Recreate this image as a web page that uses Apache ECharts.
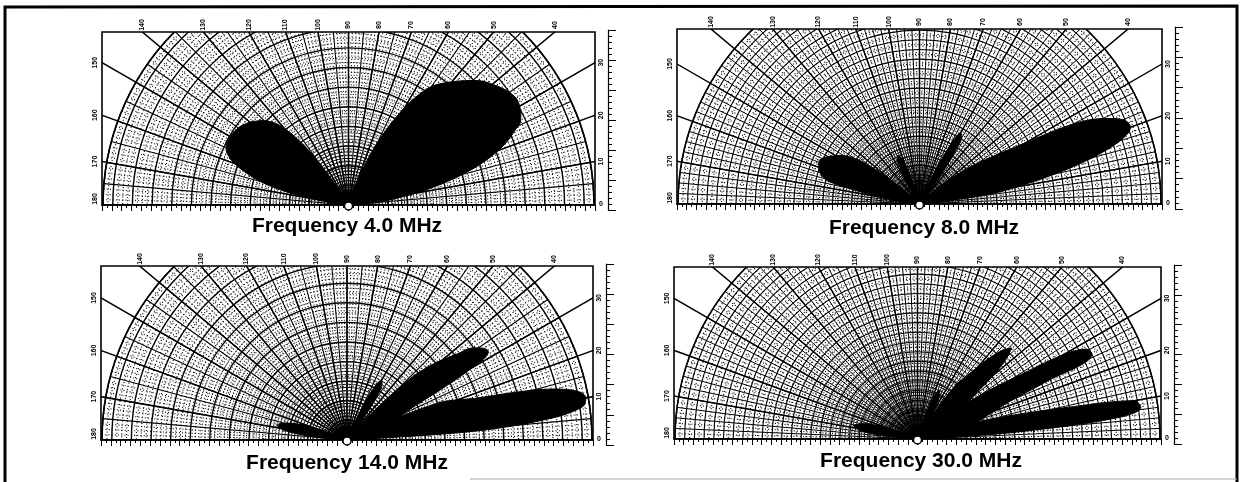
<!DOCTYPE html>
<html><head><meta charset="utf-8">
<script src="https://cdn.jsdelivr.net/npm/echarts@6/dist/echarts.min.js"></script>
<style>
html,body{margin:0;padding:0;background:#fff;}
#wrap{position:relative;width:1251px;height:482px;overflow:hidden;background:#fff;}
.clip{position:absolute;overflow:hidden;}
#overlay{position:absolute;left:0;top:0;width:1251px;height:482px;z-index:5;}
</style></head>
<body><div id="wrap"><div id="overlay"></div></div>
<script>
// ---------- DATA ----------
const angleDeg = [0,2,4,6,8,10,12,14,16,18,20,22,24,26,28,30,32,34,36,38,40,42,44,46,48,50,52,54,56,58,60,62,64,66,68,70,72,74,76,78,80,82,84,86,88,90,92,94,96,98,100,102,104,106,108,110,112,114,116,118,120,122,124,126,128,130,132,134,136,138,140,142,144,146,148,150,152,154,156,158,160,162,164,166,168,170,172,174,176,178,180];

const titles = ['Frequency 4.0 MHz','Frequency 8.0 MHz','Frequency 14.0 MHz','Frequency 30.0 MHz'];

const tickAngles = [0,10,20,30,40,50,60,70,80,90,100,110,120,130,140,150,160,170,180];
const tickLabels = ['0','10','20','30','40','50','60','70','80','90','100','110','120','130','140','150','160','170','180'];

// relative field (outer ring = 100)
const pattern4MHz = [0,3,8,14,20,28,36,44,52,59,65,70,74,78,79.5,80.5,81,80.5,79.5,78,76.5,75,73,70.5,68,65.5,63,60.5,57,52,46,39,32,25,17,10,4,1,
 1,1,1,1,1,1,1,1,1,1,1,1,1,1,1,1,1,1,1,1,1,1,
 1,6,17,27,35,41,45,47.5,49.5,51,52.5,53.5,54.5,55,55.5,56,56,55.5,54.5,52.5,49.5,45,40,34,26,16,8,4,2,1,0];

const pattern8MHz = [0,1,3,10,30,41,54,68,80,89,93,92,87,80,68,51,40,33,27,20,12,7,4,2,2,3,7,17,27,33,34,30,19,8,3,1,
 1,1,1,1,1,1,1,1,1,1,1,1,1,1,1,1,
 2,6,13,18,21,22,21,17,10,5,2,
 1,1,1,1,1,1,
 3,13,24,31,35,38,40,42,44,45,45,44.5,43.5,42,39,27,17,10,6,3,1,0];

const pattern14MHz = [0,4,53,83,97,99,96,86,70,55,48,41,23,28,41,59,68,67,64,57,51,45,37,24,12,7,8,16,23,27,28,26,19,9,4,2,
 2,1,1,1,1,1,1,1,1,1,1,1,1,1,1,1,1,1,1,1,1,1,1,1,1,1,1,1,1,1,1,1,1,1,1,1,1,1,1,1,1,2,
 4,9,16,21,25,28,29,28,24,16,7,2,0];

const pattern30MHz = [0,6,41,82,93,91,62,41,26,29,34,40,58,80,79,70,50,37,26,31,41,49,54,51,46,39,33,29,21,11,13,18,21,22,20,16,10,6,
 5,5,5,5,5,5,5,5,5,5,5,5,5,5,5,5,5,5,5,5,5,5,5,5,5,5,5,5,5,5,5,5,5,5,5,5,5,5,5,5,
 5,8,14,19,23,25,27,26,23,16,7,2,0];

const patterns = [pattern4MHz, pattern8MHz, pattern14MHz, pattern30MHz];

// ---------- LAYOUT ----------
const layout = [
  {l:102, r:595, t:32, b:205, tx:347, ty:228, dense:false},
  {l:677, r:1162, t:29, b:204, tx:924, ty:230, dense:true},
  {l:101, r:593, t:266, b:440, tx:347, ty:465, dense:false},
  {l:674, r:1161, t:267, b:439, tx:921, ty:463, dense:true}
];

const wrap = document.getElementById('wrap');

function panelOption(values, W, H, dense){
  const R = W/2 - 1;
  const c = [W/2, H];
  const dot = {color:'#000', width:dense?1.2:1.1, type:[1,2.2]};
  return {
    animation:false,
    polar:[{center:c, radius:R},{center:c, radius:Math.ceil(Math.hypot(W/2,H))+20}],
    angleAxis:[{
      polarIndex:0, type:'value', min:0, max:360, startAngle:0, clockwise:false,
      interval: dense?2.5:5,
      axisLine:{show:true, lineStyle:{color:'#000', width:1.6}},
      axisTick:{show:false}, axisLabel:{show:false},
      splitLine:{show:true, lineStyle:{color:'#000', width:dense?1:1.1}},
      minorTick:{show:false, splitNumber:dense?2:4},
      minorSplitLine:{show:true, lineStyle:dot}
    },{
      polarIndex:1, type:'value', min:0, max:360, startAngle:0, clockwise:false, interval:10,
      axisLine:{show:false}, axisTick:{show:false}, axisLabel:{show:false},
      splitLine:{show:true, lineStyle:{color:'#000', width:1.5}}
    }],
    radiusAxis:[{
      polarIndex:0, type:'value', min:0, max:100, interval:dense?4:8,
      axisLine:{show:false}, axisTick:{show:false}, axisLabel:{show:false},
      splitLine:{show:true, lineStyle:{color:'#000', width:dense?1.1:1.4}},
      minorTick:{show:false, splitNumber:dense?2:4},
      minorSplitLine:{show:true, lineStyle:dot}
    },{
      polarIndex:1, type:'value', min:0, max:100,
      axisLine:{show:false}, axisTick:{show:false}, axisLabel:{show:false}, splitLine:{show:false}
    }],
    series:[{
      type:'line', coordinateSystem:'polar', polarIndex:0,
      data: angleDeg.map((a,k)=>[values[k], a]),
      symbol:'none', smooth:0.35, silent:true, z:5,
      lineStyle:{color:'#000', width:1},
      areaStyle:{color:'#000', opacity:1}
    }]
  };
}

layout.forEach((L,i)=>{
  const div = document.createElement('div');
  div.className = 'clip';
  const W = L.r - L.l, H = L.b - L.t;
  div.style.left = L.l+'px'; div.style.top = L.t+'px';
  div.style.width = W+'px'; div.style.height = H+'px';
  wrap.insertBefore(div, document.getElementById('overlay'));
  const ch = echarts.init(div);
  ch.setOption(panelOption(patterns[i], W, H, L.dense));
});

// ---------- OVERLAY (frames, labels, titles, rulers) ----------
function labelElements(L){
  const cx = (L.l+L.r)/2, els = [];
  tickAngles.forEach((deg,k)=>{
    const txt = tickLabels[k];
    let x, y, rot = Math.PI/2;
    if (deg === 0) { x = L.r+6; y = L.b-1; rot = 0; }
    else if (deg === 180) { x = L.l-7; y = L.b-6; }
    else {
      const a = deg*Math.PI/180, dx = Math.cos(a), dy = Math.sin(a);
      const tTop = (L.b-L.t)/dy;
      const tSide = dx > 1e-9 ? (L.r-cx)/dx : (dx < -1e-9 ? (cx-L.l)/(-dx) : Infinity);
      if (tTop <= tSide) { x = cx + tTop*dx; y = L.t-7; }
      else { y = L.b - tSide*dy; x = dx > 0 ? L.r+6 : L.l-7; }
    }
    els.push({type:'text', x:x, y:y, rotation:rot, z:20,
      style:{text:txt, font:'bold 7px "Liberation Sans"', fill:'#000',
             align:'center', verticalAlign:'middle', textAlign:'center', textVerticalAlign:'middle'}});
  });
  return els;
}

const graphicEls = [];
graphicEls.push({type:'polyline', z:10, shape:{points:[[5,482],[5,7],[1237,6],[1237,482]]},
  style:{stroke:'#000', lineWidth:3, fill:null}});
graphicEls.push({type:'line', z:10, shape:{x1:470,y1:479,x2:1237,y2:479}, style:{stroke:'#aaa', lineWidth:1}});
layout.forEach(L=>{
  graphicEls.push({type:'rect', z:10, shape:{x:L.l, y:L.t, width:L.r-L.l, height:L.b-L.t},
    style:{fill:null, stroke:'#000', lineWidth:1.6}});
  graphicEls.push({type:'circle', z:12, shape:{cx:(L.l+L.r)/2, cy:L.b+1, r:4},
    style:{fill:'#fff', stroke:'#000', lineWidth:1.5}});
  labelElements(L).forEach(e=>graphicEls.push(e));
});

const grids = [], xAxes = [], yAxes = [];
layout.forEach((L,i)=>{
  grids.push({left:L.r+13, top:L.t-2, width:10, height:(L.b+5)-(L.t-2)});
  xAxes.push({gridIndex:grids.length-1, type:'value', show:false, min:0, max:1});
  yAxes.push({gridIndex:grids.length-1, type:'value', min:0, max:30, interval:5,
    axisLine:{show:true, lineStyle:{color:'#000', width:1.2}},
    axisTick:{show:true, inside:true, length:8, lineStyle:{color:'#000', width:1}},
    minorTick:{show:true, splitNumber:5, length:4, lineStyle:{color:'#000', width:1}},
    axisLabel:{show:false}, splitLine:{show:false}});
  grids.push({left:L.l, top:L.b-1, width:L.r-L.l, height:1});
  xAxes.push({gridIndex:grids.length-1, type:'value', min:0, max:100, interval:2, position:'bottom',
    axisLine:{show:true, lineStyle:{color:'#000', width:1.6}},
    axisTick:{show:true, length:6, lineStyle:{color:'#000', width:1}},
    minorTick:{show:true, splitNumber:2, length:3, lineStyle:{color:'#000', width:1}},
    axisLabel:{show:false}, splitLine:{show:false}});
  yAxes.push({gridIndex:grids.length-1, type:'value', show:false, min:0, max:1});
});

const overlay = echarts.init(document.getElementById('overlay'));
overlay.setOption({
  animation:false,
  title: layout.map((L,i)=>({
    text:titles[i], left:L.tx, top:L.ty-12, textAlign:'center', padding:0, z:30,
    textStyle:{fontFamily:'Liberation Sans', fontWeight:'bold', fontSize:21, color:'#000'}
  })),
  grid: grids, xAxis: xAxes, yAxis: yAxes,
  graphic: {elements: graphicEls}
});
</script>
</body></html>
